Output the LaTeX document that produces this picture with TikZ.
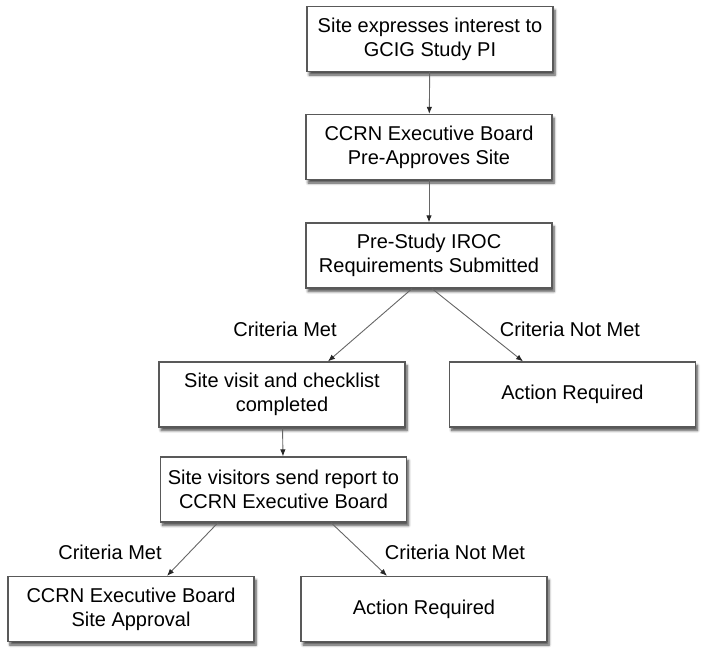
\documentclass[tikz,border=0pt]{standalone}
\usepackage{fontspec}
\setmainfont{Liberation Sans}
\usetikzlibrary{arrows.meta,shadows.blur}
\begin{document}
\begin{tikzpicture}[
    x=1pt,y=-1pt,
    every node/.style={font=\fontsize{20}{24}\selectfont},
    stage/.style={rectangle,draw=black!65,line width=1.3pt,fill=white,
        minimum width=246pt,minimum height=65pt,align=center,inner sep=2pt,
        blur shadow={shadow xshift=2pt,shadow yshift=-3.5pt,shadow blur steps=6,
        shadow blur radius=2.5pt,shadow opacity=70}},
    flow/.style={draw=black!60,line width=0.9pt,-{Latex[length=7pt,width=5.5pt,color=black!85]}},
    cond/.style={inner sep=0pt}
]
\useasboundingbox (0,0) rectangle (705,656);

\node[stage] (S1) at (430,39)    {Site expresses interest to\\GCIG Study PI};
\node[stage] (S2) at (429,147)   {CCRN Executive Board\\Pre-Approves Site};
\node[stage] (S3) at (429,255.5) {Pre-Study IROC\\Requirements Submitted};
\node[stage] (S4) at (282,394.5) {Site visit and checklist\\completed};
\node[stage] (A1) at (572.5,394.5) {Action Required};
\node[stage] (S5) at (283.5,489.5) {Site visitors send report to\\CCRN Executive Board};
\node[stage] (S6) at (131,609)   {CCRN Executive Board\\Site Approval};
\node[stage] (A2) at (424,609)   {Action Required};

\node[cond] (M1) at (285,329) {Criteria Met};
\node[cond] (N1) at (570,329) {Criteria Not Met};
\node[cond] (M2) at (110,552) {Criteria Met};
\node[cond] (N2) at (455,552) {Criteria Not Met};

\draw[flow] (S1) -- (S2);
\draw[flow] (S2) -- (S3);
\draw[flow] ([xshift=-17pt]S3.south) -- ([xshift=46pt]S4.north);
\draw[flow] ([xshift=3pt]S3.south) -- ([xshift=-49.5pt]A1.north);
\draw[flow] (S4) -- (S5);
\draw[flow] ([xshift=-65.5pt]S5.south) -- ([xshift=36pt]S6.north);
\draw[flow] ([xshift=47.5pt]S5.south) -- ([xshift=-37pt]A2.north);
\end{tikzpicture}
\end{document}
